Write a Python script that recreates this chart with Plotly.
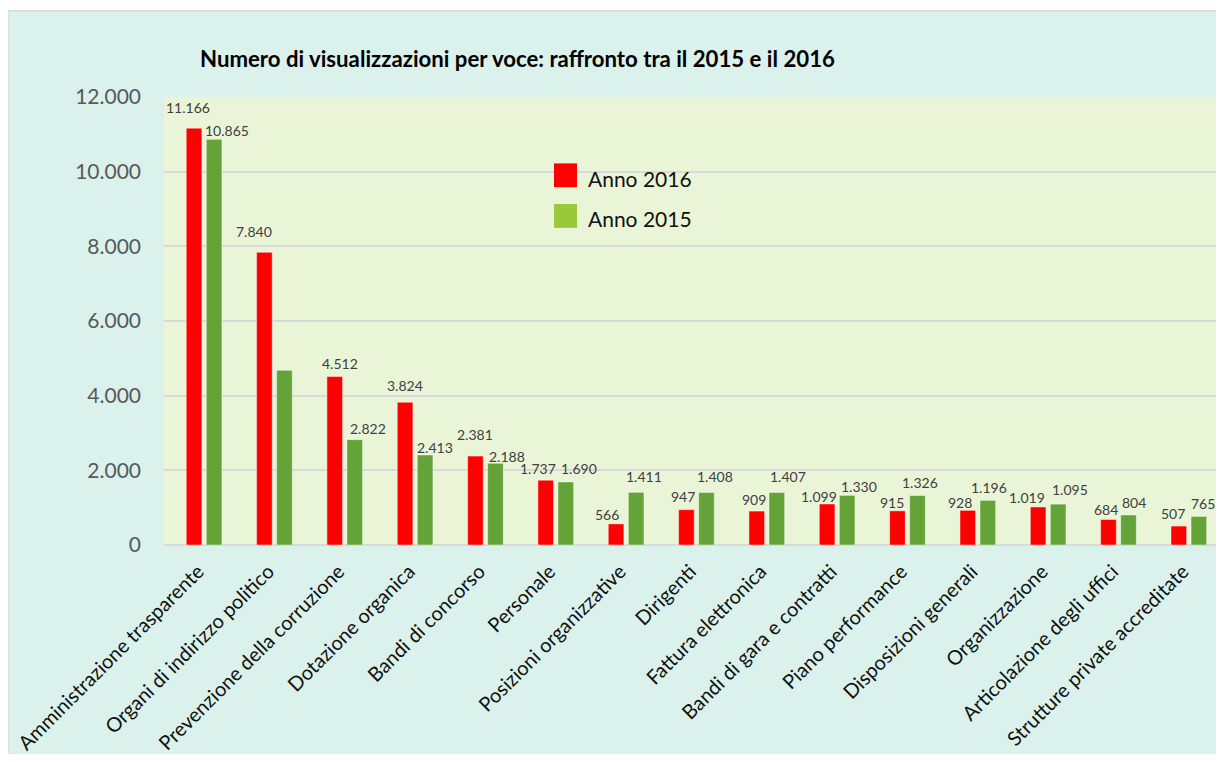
import plotly.graph_objects as go

# ---------------- data ----------------
categories = [
    "Amministrazione trasparente", "Organi di indirizzo politico",
    "Prevenzione della corruzione", "Dotazione organica", "Bandi di concorso",
    "Personale", "Posizioni organizzative", "Dirigenti", "Fattura elettronica",
    "Bandi di gara e contratti", "Piano performance", "Disposizioni generali",
    "Organizzazione", "Articolazione degli uffici", "Strutture private accreditate",
]
anno_2016 = [11166, 7840, 4512, 3824, 2381, 1737, 566, 947, 909, 1099, 915, 928, 1019, 684, 507]
anno_2015 = [10865, 4680, 2822, 2413, 2188, 1690, 1411, 1408, 1407, 1330, 1326, 1196, 1095, 804, 765]
hidden_labels_2015 = [1]          # the 2015 value of "Organi di indirizzo politico" has no label
y_tick_values = [0, 2000, 4000, 6000, 8000, 10000, 12000]
title_text = "Numero di visualizzazioni per voce: raffronto tra il 2015 e il 2016"
legend_names = ["Anno 2016", "Anno 2015"]

# ---------------- style ----------------
PAGE_MARGIN = 8                    # default body margin of the html page
W, H = 1216, 746
M_L, M_R, M_T, M_B = 156, 0, 89, 205
PW, PH = W - M_L - M_R, H - M_T - M_B
FONT = "Lato"
RED, GREEN, GREEN_LEG = "#FF0000", "#63A338", "#9BC83A"
OUTER_BG, PLOT_BG, GRID = "#DAF1EC", "#EAF5D8", "#D9D9D9"
BARGAP, BARGROUPGAP = 0.43, 0.22
# manual nudges of data labels (pixels): horizontal offset from bar centre, height of label centre above bar top
dx_2016 = [-6, -10, 5, 0, 0, -8, -9, -3, -3, -8, -5.5, -8, -10.6, -2.7, -5.7]
up_2016 = [20.4, 21, 13.3, 16.7, 21.4, 11.7, 9, 13.6, 12, 7.7, 8.6, 7.6, 9.4, 10.3, 12.3]
dx_2015 = [12.5, 0, 13, 10, 11, 13, 7.5, 8, 11, 12, 2, 1.5, 11.7, 5.7, 4]
up_2015 = [9, 0, 10.7, 7.3, 7.3, 13.4, 16.3, 15.6, 15.6, 9, 12.7, 12.7, 15, 12.7, 13]


def fmt(v):
    return f"{v:,}".replace(",", ".")


def px(x):   # screen pixel -> paper coordinate
    return (x - PAGE_MARGIN - M_L) / PW


def py(y):
    return (H - M_B - (y - PAGE_MARGIN)) / PH


fig = go.Figure()
fig.add_trace(go.Bar(x=categories, y=anno_2016, name=legend_names[0], marker_color=RED,
                     marker_line=dict(color="rgba(255,255,255,0.45)", width=1), showlegend=False))
fig.add_trace(go.Bar(x=categories, y=anno_2015, name=legend_names[1], marker_color=GREEN,
                     marker_line=dict(color="rgba(255,255,255,0.45)", width=1), showlegend=False))

slot = PW / len(categories) * (1 - BARGAP) / 2
annotations = []
for i, c in enumerate(categories):
    annotations.append(dict(x=c, y=anno_2016[i], xref="x", yref="y", text=fmt(anno_2016[i]),
                            showarrow=False, xanchor="center", yanchor="middle",
                            xshift=-slot / 2 + dx_2016[i], yshift=up_2016[i],
                            font=dict(family=FONT, size=14, color="#404040")))
    if i not in hidden_labels_2015:
        annotations.append(dict(x=c, y=anno_2015[i], xref="x", yref="y", text=fmt(anno_2015[i]),
                                showarrow=False, xanchor="center", yanchor="middle",
                                xshift=slot / 2 + dx_2015[i], yshift=up_2015[i],
                                font=dict(family=FONT, size=14, color="#404040")))

# title
annotations.append(dict(x=px(198), y=py(58), xref="paper", yref="paper", text="<b>" + title_text + "</b>",
                        showarrow=False, xanchor="left", yanchor="middle",
                        font=dict(family=FONT, size=22.2, color="#000000")))

# legend (drawn manually)
legend_rows = [(RED, 176), (GREEN_LEG, 217)]
shapes = [
    dict(type="rect", xref="paper", yref="paper", x0=px(8), x1=px(1260), y0=py(10), y1=py(800),
         fillcolor=OUTER_BG, line=dict(color=GRID, width=1.5), layer="below"),
    dict(type="rect", xref="paper", yref="paper", x0=0, x1=1, y0=0, y1=1,
         fillcolor=PLOT_BG, line=dict(width=0), layer="below"),
]
for (col, yc), name in zip(legend_rows, legend_names):
    shapes.append(dict(type="rect", xref="paper", yref="paper", x0=px(554), x1=px(577),
                       y0=py(yc - 12), y1=py(yc + 12), fillcolor=col, line=dict(width=0), layer="above"))
    annotations.append(dict(x=px(586), y=py(yc + 3), xref="paper", yref="paper", text=name,
                            showarrow=False, xanchor="left", yanchor="middle",
                            font=dict(family=FONT, size=21, color="#111111")))

fig.update_layout(
    width=W, height=H,
    margin=dict(l=M_L, r=M_R, t=M_T, b=M_B, pad=0),
    paper_bgcolor="#FFFFFF", plot_bgcolor=PLOT_BG,
    barmode="group", bargap=BARGAP, bargroupgap=BARGROUPGAP,
    separators=",.",
    showlegend=False,
    shapes=shapes, annotations=annotations,
    font=dict(family=FONT),
)
fig.update_yaxes(range=[0, 12000], tickvals=y_tick_values, tickformat=",d",
                 showgrid=True, gridcolor=GRID, gridwidth=1.5,
                 zeroline=True, zerolinecolor=GRID, zerolinewidth=2,
                 showline=False, ticks="", ticklabelstandoff=22,
                 tickfont=dict(family=FONT, size=21, color="#595959"))
fig.update_xaxes(tickangle=-45, showgrid=False, showline=False, ticks="",
                 ticklabelstandoff=10, ticklabelshift=-6,
                 tickfont=dict(family=FONT, size=20, color="#111111"))

fig.write_html("out.html")
